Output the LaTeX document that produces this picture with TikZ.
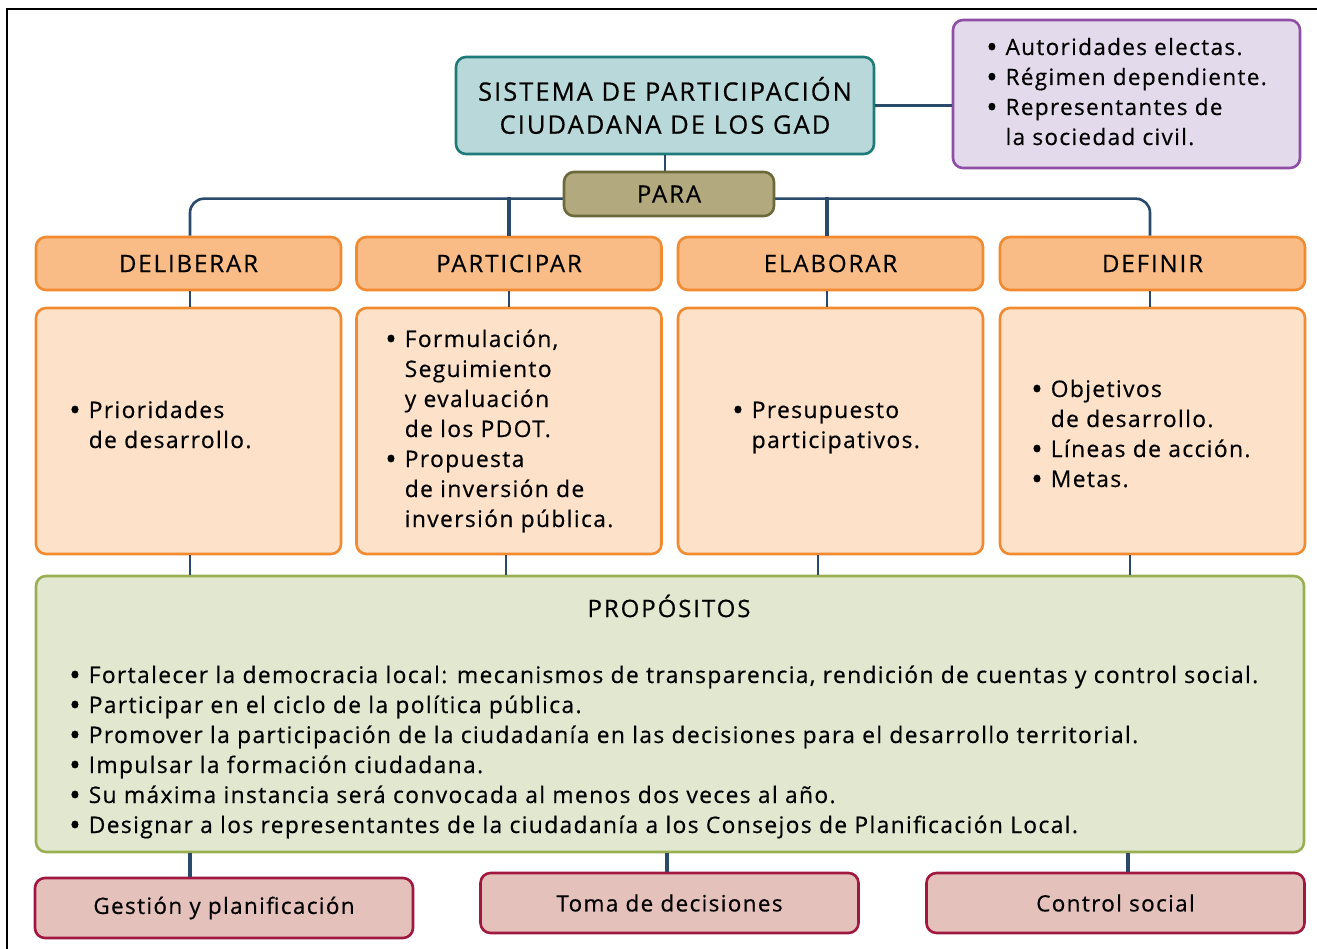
\documentclass[tikz,border=0pt]{standalone}
\usepackage{fontspec}
\usepackage{graphicx}
\setmainfont{Open Sans}[LetterSpace=6, FakeBold=0.5]
\newfontfamily\capsfont{Open Sans}[LetterSpace=8, FakeBold=0.5]
\usepackage{tikz}
\usetikzlibrary{positioning,calc}
\definecolor{TealFill}{HTML}{B8D8D9}
\definecolor{TealLine}{HTML}{1F7B7A}
\definecolor{LilaFill}{HTML}{E3DAEC}
\definecolor{LilaLine}{HTML}{8E4FA5}
\definecolor{OliveFill}{HTML}{B3A97E}
\definecolor{OliveLine}{HTML}{6C6A3B}
\definecolor{OrangeFill}{HTML}{FABC87}
\definecolor{PeachFill}{HTML}{FDE1C8}
\definecolor{OrangeLine}{HTML}{F28A30}
\definecolor{GreenFill}{HTML}{E2E7CF}
\definecolor{GreenLine}{HTML}{9AAF52}
\definecolor{RoseFill}{HTML}{E5C1BB}
\definecolor{RoseLine}{HTML}{A0183F}
\definecolor{NavyLine}{HTML}{2A4A6C}
\tikzset{
  pc/box/.style={draw, line width=2.6pt, rounded corners=10pt, align=center, inner sep=0pt},
  pc/caps/.style={font=\capsfont\fontsize{24}{33}\selectfont},
  pc/title/.style={pc/box, draw=TealLine, fill=TealFill, minimum width=418pt, minimum height=97pt, font=\capsfont\fontsize{25.5}{33}\selectfont},
  pc/info/.style={pc/box, draw=LilaLine, fill=LilaFill, minimum width=347pt, minimum height=148pt, font=\fontsize{22.5}{30}\selectfont},
  pc/para/.style={pc/box, draw=OliveLine, fill=OliveFill, minimum width=210pt, minimum height=44pt, pc/caps},
  pc/verb/.style={pc/box, draw=OrangeLine, fill=OrangeFill, minimum width=305pt, minimum height=53pt, pc/caps},
  pc/body/.style={pc/box, draw=OrangeLine, fill=PeachFill, minimum width=305pt, minimum height=246pt},
  pc/purpose/.style={pc/box, draw=GreenLine, fill=GreenFill, minimum width=1268pt, minimum height=276pt},
  pc/result/.style={pc/box, draw=RoseLine, fill=RoseFill, minimum width=378pt, minimum height=60pt, font=\fontsize{22.5}{30}\selectfont},
  pc/text/.style={align=left, inner sep=0pt, font=\fontsize{22.8}{30}\selectfont},
  pc/line/.style={draw=NavyLine, line width=2.6pt},
  pc/stem/.style={pc/line, line width=3.6pt}
}
\newcommand{\pcdot}{\raisebox{-0.12em}{\scalebox{1.35}{\textbullet}}}
\newcommand{\pclist}[1]{\begin{tabular}{@{}l@{\hspace{8pt}}l@{}}#1\end{tabular}}

\begin{document}
\begin{tikzpicture}[x=1pt,y=-1pt]
  \useasboundingbox (0,0) rectangle (1317,949);
  \draw[line width=1.6pt] (7,960) -- (7,9) -- (1330,9);

  % top
  \node[pc/title] (sistema) at (665,105.5) {SISTEMA DE PARTICIPACIÓN\\CIUDADANA DE LOS GAD};
  \node[pc/info] (integrantes) at (1126.5,94) {\pclist{\pcdot & Autoridades electas.\\
    \pcdot & Régimen dependiente.\\
    \pcdot & Representantes de\\
    & la sociedad civil.}};
  \draw[pc/line] (sistema) -- (sistema -| integrantes.west);

  % verbs
  \node[pc/verb] (deliberar) at (188.5,263.5) {DELIBERAR};
  \node[pc/verb] (participar) at (509,263.5) {PARTICIPAR};
  \node[pc/verb] (elaborar) at (830.5,263.5) {ELABORAR};
  \node[pc/verb] (definir) at (1152.5,263.5) {DEFINIR};
  \draw[pc/line, rounded corners=14pt] ([xshift=1.5pt]deliberar.north) -- ++(0,-37) -| ([xshift=-2.5pt]definir.north);
  \draw[pc/stem] (participar.north) -- ++(0,-39);
  \draw[pc/stem] ([xshift=-3.5pt]elaborar.north) -- ++(0,-39);
  \draw[pc/line] (sistema) -- (sistema |- 0,180);
  \node[pc/para] (para) at (669,194) {PARA};

  % bodies
  \node[pc/body] (deliberarb) at (188.5,431) {};
  \node[pc/body] (participarb) at (509,431) {};
  \node[pc/body] (elaborarb) at (830.5,431) {};
  \node[pc/body] (definirb) at (1152.5,431) {};
  \draw[pc/line] ([xshift=1.5pt]deliberar.south) -- ([xshift=1.5pt]deliberarb.north);
  \draw[pc/line] (participar) -- (participarb);
  \draw[pc/line] ([xshift=-3.5pt]elaborar.south) -- ([xshift=-3.5pt]elaborarb.north);
  \draw[pc/line] ([xshift=-2.5pt]definir.south) -- ([xshift=-2.5pt]definirb.north);

  \node[pc/text, anchor=west] (deliberart) at (69,427) {\pclist{\pcdot & Prioridades\\ & de desarrollo.}};
  \node[pc/text, anchor=west] (participart) at (385,431) {\pclist{\pcdot & Formulación,\\
    & Seguimiento\\ & y evaluación\\ & de los PDOT.\\
    \pcdot & Propuesta\\ & de inversión de\\ & inversión pública.}};
  \node[pc/text, anchor=west] (elaborart) at (732,427) {\pclist{\pcdot & Presupuesto\\ & participativos.}};
  \node[pc/text, anchor=west] (definirt) at (1031,436) {\pclist{\pcdot & Objetivos\\ & de desarrollo.\\
    \pcdot & Líneas de acción.\\ \pcdot & Metas.}};

  % purposes
  \node[pc/purpose] (propositos) at (670,714) {};
  \node[pc/text, pc/caps] (propositost) at (669,606) {PROPÓSITOS};
  \node[pc/text, anchor=west] (propositosl) at (69,752) {\pclist{%
    \pcdot & Fortalecer la democracia local: mecanismos de transparencia, rendición de cuentas y control social.\\
    \pcdot & Participar en el ciclo de la política pública.\\
    \pcdot & Promover la participación de la ciudadanía en las decisiones para el desarrollo territorial.\\
    \pcdot & Impulsar la formación ciudadana.\\
    \pcdot & Su máxima instancia será convocada al menos dos veces al año.\\
    \pcdot & Designar a los representantes de la ciudadanía a los Consejos de Planificación Local.}};
  \draw[pc/line] ([xshift=1.5pt]deliberarb.south) -- ([xshift=1.5pt]deliberarb.south |- propositos.north);
  \draw[pc/line] ([xshift=-3pt]participarb.south) -- ([xshift=-3pt]participarb.south |- propositos.north);
  \draw[pc/line] ([xshift=-12.5pt]elaborarb.south) -- ([xshift=-12.5pt]elaborarb.south |- propositos.north);
  \draw[pc/line] ([xshift=-22.5pt]definirb.south) -- ([xshift=-22.5pt]definirb.south |- propositos.north);

  % results
  \node[pc/result] (gestion) at (224,908) {Gestión y planificación};
  \node[pc/result] (toma) at (669.5,903) {Toma de decisiones};
  \node[pc/result] (control) at (1115.5,903) {Control social};
  \draw[pc/stem] ([xshift=-34pt]gestion.north |- propositos.south) -- ([xshift=-34pt]gestion.north);
  \draw[pc/stem] ([xshift=-2.5pt]toma.north |- propositos.south) -- ([xshift=-2.5pt]toma.north);
  \draw[pc/stem] ([xshift=12.5pt]control.north |- propositos.south) -- ([xshift=12.5pt]control.north);
\end{tikzpicture}
\end{document}
